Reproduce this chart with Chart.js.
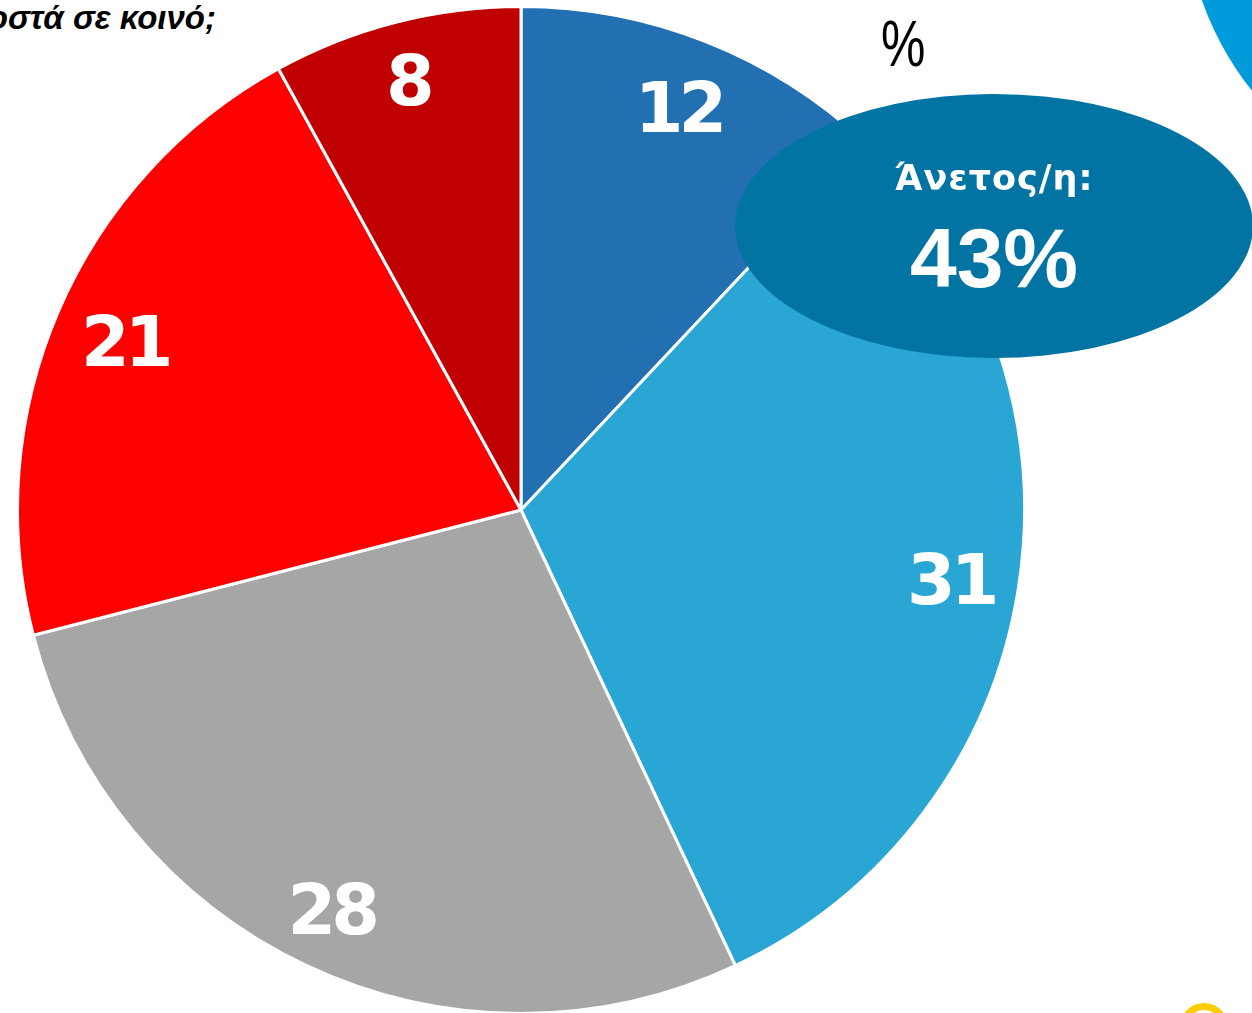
<!DOCTYPE html>
<html>
<head>
<meta charset="utf-8">
<script src="https://cdn.jsdelivr.net/npm/chart.js@4"></script>
<style>
  html, body { margin: 0; padding: 0; background: #fff; overflow: hidden; }
  body { width: 1252px; height: 1013px; position: relative; }
  #pieBox { position: absolute; left: 16px; top: 5px; width: 1010px; height: 1010px; }
  .question { position: absolute; right: 1036px; top: -2px; font: italic bold 33px "Liberation Sans", Arial, sans-serif; color: #000; white-space: nowrap; line-height: 40px; }
  .pct { position: absolute; left: 881px; top: 12px; font: 64px "Liberation Sans", Arial, sans-serif; color: #000; transform: scaleX(0.78); transform-origin: left top; line-height: 64px; }
  .bubble { position: absolute; left: 735px; top: 94px; width: 518px; height: 264px; border-radius: 50%; background: #0274a4; }
  .bubble .lbl { position: absolute; left: 0; width: 100%; top: 64px; text-align: center; color: #fff; font: bold 35px "DejaVu Sans", sans-serif; letter-spacing: 1px; }
  .bubble .big { position: absolute; left: 0; width: 100%; top: 119px; text-align: center; color: #fff; font: bold 84px "Liberation Sans", Arial, sans-serif; line-height: 90px; }
  .corner { position: absolute; left: 1185px; top: -405px; width: 610px; height: 610px; border-radius: 50%; background: #009bdb; }
  .ring { position: absolute; left: 1180px; top: 1003px; width: 34px; height: 34px; border-radius: 50%; border: 7px solid #ffcc00; }
</style>
</head>
<body>
<div class="question">ποσοστά σε κοινό;</div>
<div class="pct">%</div>
<div class="corner"></div>
<div id="pieBox"><canvas id="pie"></canvas></div>
<div class="bubble">
  <div class="lbl">Άνετος/η:</div>
  <div class="big">43%</div>
</div>
<div class="ring"></div>
<script>
const categories = ['Πολύ άνετος/η', 'Μάλλον άνετος/η', 'Ούτε/ούτε', 'Μάλλον άβολα', 'Πολύ άβολα'];
const values = [12, 31, 28, 21, 8];
const sliceColors = ['#2270b2', '#29a6d3', '#a6a6a6', '#ff0000', '#c00000'];

// how far out each number sits, as a share of the radius
const labelRadius = [0.863, 0.869, 0.874, 0.852, 0.884];

const sliceLabels = {
    id: 'sliceLabels',
    afterDatasetsDraw(chart) {
        const ctx = chart.ctx;
        const meta = chart.getDatasetMeta(0);
        ctx.save();
        ctx.fillStyle = '#fff';
        ctx.font = 'bold 70px "DejaVu Sans", sans-serif';
        ctx.letterSpacing = '-5px';
        ctx.textAlign = 'center';
        ctx.textBaseline = 'alphabetic';
        meta.data.forEach(function(arc, i) {
            const p = arc.getProps(['x', 'y', 'startAngle', 'endAngle', 'outerRadius'], true);
            const mid = (p.startAngle + p.endAngle) / 2;
            const r = p.outerRadius * labelRadius[i];
            const tx = p.x + Math.cos(mid) * r;
            const ty = p.y + Math.sin(mid) * r;
            ctx.fillText(String(values[i]), tx - 2.5, ty + 26);
        });
        ctx.restore();
    }
};

new Chart(document.getElementById('pie').getContext('2d'), {
    type: 'pie',
    data: {
        labels: categories,
        datasets: [{
            data: values,
            backgroundColor: sliceColors,
            borderColor: '#fff',
            borderWidth: 3
        }]
    },
    options: {
        responsive: true,
        maintainAspectRatio: false,
        animation: false,
        plugins: {
            legend: { display: false },
            tooltip: { enabled: false }
        }
    },
    plugins: [sliceLabels]
});
</script>
</body>
</html>
